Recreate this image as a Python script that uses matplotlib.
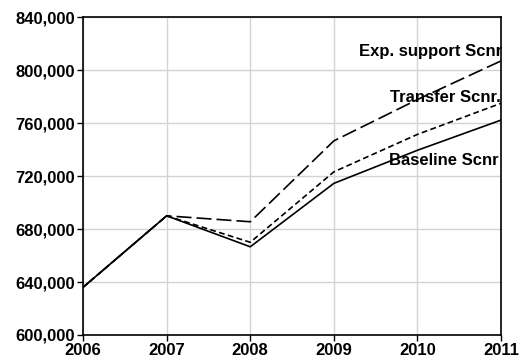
import matplotlib
matplotlib.use("Agg")
import matplotlib.pyplot as plt
from matplotlib.ticker import FuncFormatter

years = [2006, 2007, 2008, 2009, 2010, 2011]
baseline = [636000, 690000, 666600, 714500, 739500, 762300]
transfer = [636000, 690000, 670000, 723200, 751500, 775000]
exp_support = [636000, 690000, 685500, 746600, 777800, 807000]

labels = ["Exp. support Scnr", "Transfer Scnr.", "Baseline Scnr"]
label_y = [814300, 779600, 732000]
label_x = [2011.01, 2011.0, 2010.97]

plt.rcParams['font.family'] = ['Liberation Sans', 'DejaVu Sans']
fig = plt.figure(figsize=(5.22, 3.62), dpi=100)
ax = fig.add_axes([0.159, 0.0746, 0.801, 0.878])

ax.plot(years, exp_support, color='black', lw=1.2, dashes=(9, 3))
ax.plot(years, transfer, color='black', lw=1.2, dashes=(3.5, 2))
ax.plot(years, baseline, color='black', lw=1.2)

for t, x, y in zip(labels, label_x, label_y):
    ax.text(x, y, t, ha='right', va='center', fontsize=12, fontweight='bold')

ax.set_xlim(2006, 2011)
ax.set_ylim(600000, 840000)
ax.set_xticks(years)
ax.set_yticks(range(600000, 840001, 40000))
ax.yaxis.set_major_formatter(FuncFormatter(lambda v, p: f"{int(v):,}"))
ax.grid(True, color='#d3d3d3', lw=1)
ax.set_axisbelow(True)
for s in ax.spines.values():
    s.set_color('black')
    s.set_linewidth(1.2)
ax.tick_params(axis='both', labelsize=12, length=4, width=1, direction='out')
ax.tick_params(axis='x', pad=2)
ax.tick_params(axis='y', pad=2)
for lab in ax.get_xticklabels() + ax.get_yticklabels():
    lab.set_fontweight('bold')

fig.savefig("out.png", dpi=100)
